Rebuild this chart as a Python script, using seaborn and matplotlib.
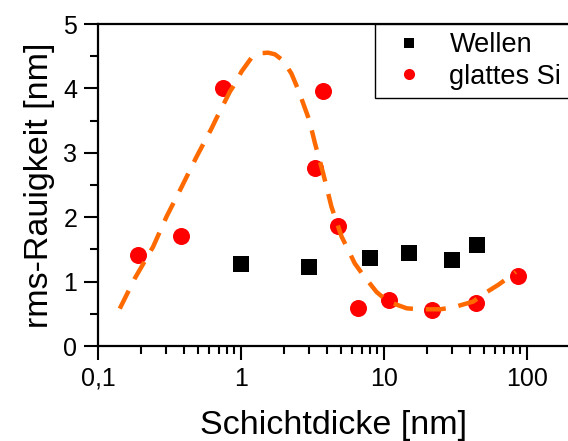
import matplotlib
matplotlib.use("Agg")
import matplotlib.pyplot as plt
from matplotlib.lines import Line2D
from matplotlib.ticker import FixedLocator, FuncFormatter, LogLocator, NullFormatter, MultipleLocator
import seaborn as sns
import pandas as pd

# Measured roughness on wavy substrate (Wellen)
wellen_d = [1.0, 3.0, 8.0, 15.0, 30.0, 45.0]
wellen_rms = [1.28, 1.22, 1.36, 1.45, 1.33, 1.57]

# Measured roughness on flat silicon (glattes Si)
si_d = [0.19, 0.38, 0.75, 3.3, 3.77, 4.75, 6.6, 10.9, 21.9, 44.0, 87.5]
si_rms = [1.41, 1.71, 4.01, 2.76, 3.96, 1.86, 0.585, 0.71, 0.56, 0.66, 1.09]

# Guide-to-the-eye curve through the flat-silicon data
guide_d = [0.142, 0.181, 0.243, 0.302, 0.385, 0.49, 0.624, 0.676, 0.838, 0.908,
           1.01, 1.19, 1.36, 1.55, 1.73, 1.98, 2.26, 2.52, 2.78, 3.01, 3.30,
           3.77, 4.31, 5.07, 6.28, 7.19, 8.9, 10.7, 14.5, 17.9, 24.8, 30.7,
           42.3, 51.1, 63.4, 78.7, 84.0]
guide_rms = [0.58, 1.05, 1.54, 2.01, 2.47, 2.94, 3.38, 3.54, 3.95, 4.07,
             4.26, 4.48, 4.545, 4.555, 4.53, 4.43, 4.23, 3.98, 3.72, 3.51, 3.15,
             2.68, 2.16, 1.70, 1.28, 1.10, 0.84, 0.69, 0.585, 0.57, 0.57, 0.60,
             0.69, 0.82, 0.95, 1.10, 1.15]

x_ticks = [0.1, 1, 10, 100]
x_tick_labels = ["0,1", "1", "10", "100"]
y_ticks = [0, 1, 2, 3, 4, 5]

sns.set_style("ticks")
plt.rcParams["font.family"] = ["Liberation Sans", "DejaVu Sans"]
plt.rcParams.update({"text.color": "black", "axes.labelcolor": "black",
                     "xtick.color": "black", "ytick.color": "black"})

wellen_df = pd.DataFrame({"d": wellen_d, "rms": wellen_rms})
si_df = pd.DataFrame({"d": si_d, "rms": si_rms})
guide_df = pd.DataFrame({"d": guide_d, "rms": guide_rms})

fig = plt.figure(figsize=(5.68, 4.41), dpi=100)
ax = fig.add_axes([98 / 568, 1 - 346 / 441, 1 - 98 / 568, (346 - 24) / 441])

orange = "#ff6a00"
sns.lineplot(data=guide_df, x="d", y="rms", ax=ax, color=orange, lw=3.2,
             sort=False, estimator=None, legend=False, zorder=3)
guide_line = ax.lines[-1]
guide_line.set_dashes([4.5, 2.9])
guide_line.set_dash_capstyle("butt")
guide_line.set_solid_joinstyle("round")

sns.scatterplot(data=si_df, x="d", y="rms", ax=ax, marker="o", s=150,
                color="#ff0000", linewidth=0, legend=False, zorder=2)
sns.scatterplot(data=wellen_df, x="d", y="rms", ax=ax, marker="s", s=125,
                color="black", linewidth=0, legend=False, zorder=2)

ax.set_xscale("log")
ax.set_xlim(0.1, 195)
ax.set_ylim(0, 5)

ax.xaxis.set_major_locator(FixedLocator(x_ticks))
ax.xaxis.set_major_formatter(FuncFormatter(
    lambda v, pos: dict(zip(x_ticks, x_tick_labels)).get(v, "")))
ax.xaxis.set_minor_locator(LogLocator(base=10, subs=range(2, 10)))
ax.xaxis.set_minor_formatter(NullFormatter())
ax.yaxis.set_major_locator(FixedLocator(y_ticks))
ax.yaxis.set_minor_locator(MultipleLocator(0.5))

for side in ["left", "bottom", "top"]:
    ax.spines[side].set_linewidth(1.6)
    ax.spines[side].set_color("black")
ax.spines["right"].set_visible(False)

ax.tick_params(which="major", direction="out", length=10, width=1.5,
               labelsize=18, pad=5, colors="black")
ax.tick_params(which="minor", direction="out", length=5.5, width=1.5)
ax.tick_params(top=False, right=False, which="both")

ax.set_xlabel("Schichtdicke [nm]", fontsize=24.5, labelpad=14)
ax.set_ylabel("rms-Rauigkeit [nm]", fontsize=24.5, labelpad=6)

handles = [
    Line2D([], [], marker="s", ls="none", color="black", markersize=7, markeredgewidth=0),
    Line2D([], [], marker="o", ls="none", color="#ff0000", markersize=8, markeredgewidth=0),
]
leg = ax.legend(handles, ["Wellen", "glattes Si"], loc="upper left",
                bbox_to_anchor=(375 / 568, 1 - 24 / 441), bbox_transform=fig.transFigure,
                borderaxespad=0, fontsize=19.5, frameon=True, fancybox=False,
                framealpha=1, edgecolor="black", handlelength=1.9, handletextpad=0.55,
                borderpad=0.3, labelspacing=0.2)
leg.get_frame().set_linewidth(1.0)
for txt in leg.get_texts():
    txt.set_color("black")

fig.savefig("out.png", dpi=100)
